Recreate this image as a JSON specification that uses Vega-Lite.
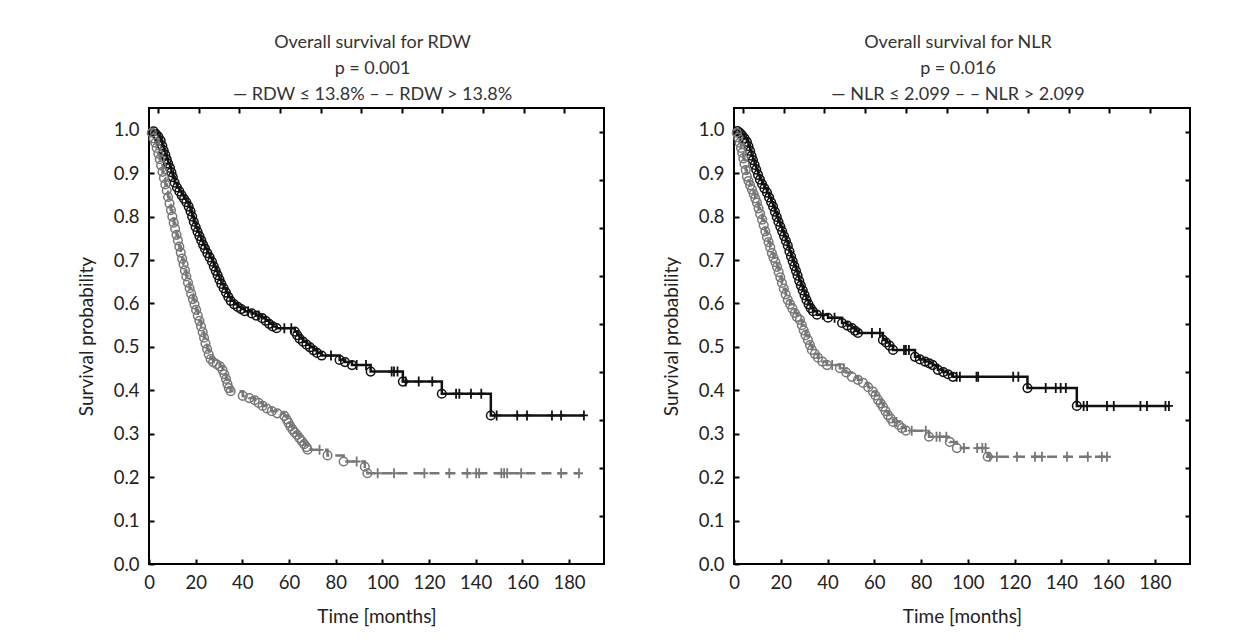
{
  "$schema": "https://vega.github.io/schema/vega-lite/v6.json",
  "autosize": {"type": "none"},
  "padding": {"left": 149, "top": 108, "right": 1104, "bottom": 535},
  "background": "white",
  "config": {
    "font": "Lato",
    "view": {"stroke": "#000000", "strokeWidth": 2},
    "axis": {"labelFont": "Lato", "labelFontSize": 18.5, "labelColor": "#222222", "titleFont": "Lato", "titleFontSize": 19, "titleFontWeight": "normal", "titleColor": "#222222", "domain": false, "grid": false, "tickColor": "#000000", "tickWidth": 2, "tickSize": -5},
    "title": {"font": "Lato", "fontSize": 18, "fontWeight": "normal", "color": "#333333", "lineHeight": 26, "anchor": "middle", "offset": 3, "dx": -4}
  },
  "datasets": {
    "rdw": [
      {"g":"a","t":0,"s":1,"k":"s"},
      {"g":"a","t":2,"s":0.996,"k":"e"},{"g":"a","t":3,"s":0.99,"k":"e"},{"g":"a","t":4,"s":0.984,"k":"e"},{"g":"a","t":5,"s":0.975,"k":"e"},{"g":"a","t":5.7,"s":0.963,"k":"e"},{"g":"a","t":6.3,"s":0.952,"k":"e"},{"g":"a","t":7,"s":0.942,"k":"e"},{"g":"a","t":7.6,"s":0.932,"k":"e"},{"g":"a","t":8.2,"s":0.922,"k":"e"},{"g":"a","t":9,"s":0.912,"k":"e"},{"g":"a","t":9.6,"s":0.902,"k":"e"},{"g":"a","t":10.2,"s":0.891,"k":"e"},{"g":"a","t":11,"s":0.878,"k":"e"},{"g":"a","t":12,"s":0.867,"k":"e"},{"g":"a","t":13,"s":0.858,"k":"e"},{"g":"a","t":14,"s":0.849,"k":"e"},{"g":"a","t":15,"s":0.841,"k":"e"},{"g":"a","t":16,"s":0.833,"k":"e"},{"g":"a","t":17,"s":0.823,"k":"e"},{"g":"a","t":17.8,"s":0.812,"k":"e"},{"g":"a","t":18.5,"s":0.8,"k":"e"},{"g":"a","t":19.2,"s":0.788,"k":"e"},{"g":"a","t":20,"s":0.776,"k":"e"},{"g":"a","t":20.8,"s":0.765,"k":"e"},{"g":"a","t":21.6,"s":0.755,"k":"e"},{"g":"a","t":22.4,"s":0.745,"k":"e"},{"g":"a","t":23.2,"s":0.735,"k":"e"},{"g":"a","t":24,"s":0.726,"k":"e"},{"g":"a","t":25,"s":0.716,"k":"e"},{"g":"a","t":26,"s":0.706,"k":"e"},{"g":"a","t":27,"s":0.696,"k":"e"},{"g":"a","t":27.8,"s":0.685,"k":"e"},{"g":"a","t":28.6,"s":0.675,"k":"e"},{"g":"a","t":29.4,"s":0.665,"k":"e"},{"g":"a","t":30.2,"s":0.655,"k":"e"},{"g":"a","t":31,"s":0.645,"k":"e"},{"g":"a","t":32,"s":0.635,"k":"e"},{"g":"a","t":33,"s":0.625,"k":"e"},{"g":"a","t":34,"s":0.615,"k":"e"},{"g":"a","t":35,"s":0.606,"k":"e"},{"g":"a","t":36.5,"s":0.598,"k":"e"},{"g":"a","t":38,"s":0.592,"k":"e"},{"g":"a","t":39.5,"s":0.587,"k":"e"},{"g":"a","t":41,"s":0.582,"k":"e"},{"g":"a","t":42.5,"s":0.582,"k":"c"},{"g":"a","t":44,"s":0.577,"k":"e"},{"g":"a","t":46,"s":0.572,"k":"e"},{"g":"a","t":47,"s":0.572,"k":"c"},{"g":"a","t":48.5,"s":0.566,"k":"e"},{"g":"a","t":50,"s":0.56,"k":"e"},{"g":"a","t":51.5,"s":0.553,"k":"e"},{"g":"a","t":53,"s":0.547,"k":"e"},{"g":"a","t":54.7,"s":0.543,"k":"e"},{"g":"a","t":58,"s":0.543,"k":"c"},{"g":"a","t":61,"s":0.543,"k":"c"},{"g":"a","t":62.5,"s":0.535,"k":"e"},{"g":"a","t":63.5,"s":0.527,"k":"e"},{"g":"a","t":64.5,"s":0.519,"k":"e"},{"g":"a","t":66,"s":0.512,"k":"e"},{"g":"a","t":67.5,"s":0.505,"k":"e"},{"g":"a","t":69,"s":0.499,"k":"e"},{"g":"a","t":70.5,"s":0.492,"k":"e"},{"g":"a","t":72,"s":0.486,"k":"e"},{"g":"a","t":74,"s":0.48,"k":"e"},{"g":"a","t":78,"s":0.48,"k":"c"},{"g":"a","t":81.7,"s":0.47,"k":"e"},{"g":"a","t":84,"s":0.465,"k":"e"},{"g":"a","t":87,"s":0.458,"k":"e"},{"g":"a","t":89,"s":0.458,"k":"c"},{"g":"a","t":93,"s":0.458,"k":"c"},{"g":"a","t":95,"s":0.443,"k":"e"},{"g":"a","t":104,"s":0.443,"k":"c"},{"g":"a","t":105,"s":0.443,"k":"c"},{"g":"a","t":106.5,"s":0.443,"k":"c"},{"g":"a","t":108.8,"s":0.42,"k":"e"},{"g":"a","t":110,"s":0.42,"k":"c"},{"g":"a","t":115.6,"s":0.42,"k":"c"},{"g":"a","t":121.4,"s":0.42,"k":"c"},{"g":"a","t":125.5,"s":0.392,"k":"e"},{"g":"a","t":131.6,"s":0.392,"k":"c"},{"g":"a","t":133,"s":0.392,"k":"c"},{"g":"a","t":138,"s":0.392,"k":"c"},{"g":"a","t":142.4,"s":0.392,"k":"c"},{"g":"a","t":146.5,"s":0.342,"k":"e"},{"g":"a","t":149,"s":0.342,"k":"c"},{"g":"a","t":157.8,"s":0.342,"k":"c"},{"g":"a","t":162,"s":0.342,"k":"c"},{"g":"a","t":172.7,"s":0.342,"k":"c"},{"g":"a","t":176.6,"s":0.342,"k":"c"},{"g":"a","t":186.4,"s":0.342,"k":"c"},
      {"g":"b","t":0,"s":1,"k":"s"},
      {"g":"b","t":1.2,"s":0.993,"k":"e"},{"g":"b","t":2,"s":0.98,"k":"e"},{"g":"b","t":2.7,"s":0.97,"k":"e"},{"g":"b","t":3.3,"s":0.958,"k":"e"},{"g":"b","t":4,"s":0.945,"k":"e"},{"g":"b","t":4.6,"s":0.932,"k":"e"},{"g":"b","t":5.2,"s":0.918,"k":"e"},{"g":"b","t":5.8,"s":0.903,"k":"e"},{"g":"b","t":6.4,"s":0.889,"k":"e"},{"g":"b","t":7,"s":0.874,"k":"e"},{"g":"b","t":7.6,"s":0.86,"k":"e"},{"g":"b","t":8.2,"s":0.845,"k":"e"},{"g":"b","t":8.8,"s":0.83,"k":"e"},{"g":"b","t":9.4,"s":0.815,"k":"e"},{"g":"b","t":10,"s":0.8,"k":"e"},{"g":"b","t":10.6,"s":0.786,"k":"e"},{"g":"b","t":11.2,"s":0.772,"k":"e"},{"g":"b","t":11.8,"s":0.758,"k":"e"},{"g":"b","t":12.4,"s":0.745,"k":"e"},{"g":"b","t":13,"s":0.731,"k":"e"},{"g":"b","t":13.6,"s":0.717,"k":"e"},{"g":"b","t":14.2,"s":0.703,"k":"e"},{"g":"b","t":14.8,"s":0.69,"k":"e"},{"g":"b","t":15.4,"s":0.676,"k":"e"},{"g":"b","t":16,"s":0.662,"k":"e"},{"g":"b","t":16.7,"s":0.648,"k":"e"},{"g":"b","t":17.4,"s":0.635,"k":"e"},{"g":"b","t":18.1,"s":0.622,"k":"e"},{"g":"b","t":18.8,"s":0.61,"k":"e"},{"g":"b","t":19.5,"s":0.598,"k":"e"},{"g":"b","t":20.2,"s":0.585,"k":"e"},{"g":"b","t":20.9,"s":0.572,"k":"e"},{"g":"b","t":21.6,"s":0.56,"k":"e"},{"g":"b","t":22.3,"s":0.547,"k":"e"},{"g":"b","t":23,"s":0.534,"k":"e"},{"g":"b","t":23.6,"s":0.521,"k":"e"},{"g":"b","t":24.2,"s":0.508,"k":"e"},{"g":"b","t":24.9,"s":0.495,"k":"e"},{"g":"b","t":25.6,"s":0.483,"k":"e"},{"g":"b","t":26.4,"s":0.472,"k":"e"},{"g":"b","t":27.5,"s":0.465,"k":"e"},{"g":"b","t":29,"s":0.46,"k":"e"},{"g":"b","t":30.4,"s":0.455,"k":"e"},{"g":"b","t":31.5,"s":0.447,"k":"e"},{"g":"b","t":32.3,"s":0.437,"k":"e"},{"g":"b","t":33,"s":0.426,"k":"e"},{"g":"b","t":33.6,"s":0.415,"k":"e"},{"g":"b","t":34.2,"s":0.405,"k":"e"},{"g":"b","t":35,"s":0.398,"k":"e"},{"g":"b","t":40.2,"s":0.387,"k":"e"},{"g":"b","t":43,"s":0.382,"k":"e"},{"g":"b","t":45.3,"s":0.377,"k":"e"},{"g":"b","t":47,"s":0.371,"k":"e"},{"g":"b","t":48.7,"s":0.364,"k":"e"},{"g":"b","t":50.5,"s":0.358,"k":"e"},{"g":"b","t":52.6,"s":0.352,"k":"e"},{"g":"b","t":55,"s":0.347,"k":"e"},{"g":"b","t":58,"s":0.341,"k":"e"},{"g":"b","t":59,"s":0.333,"k":"e"},{"g":"b","t":59.8,"s":0.325,"k":"e"},{"g":"b","t":60.6,"s":0.317,"k":"e"},{"g":"b","t":61.5,"s":0.31,"k":"e"},{"g":"b","t":62.4,"s":0.303,"k":"e"},{"g":"b","t":63.5,"s":0.297,"k":"e"},{"g":"b","t":64.5,"s":0.29,"k":"e"},{"g":"b","t":65.5,"s":0.283,"k":"e"},{"g":"b","t":66.5,"s":0.276,"k":"e"},{"g":"b","t":67.5,"s":0.269,"k":"e"},{"g":"b","t":68,"s":0.263,"k":"e"},{"g":"b","t":73.1,"s":0.263,"k":"c"},{"g":"b","t":76.5,"s":0.25,"k":"e"},{"g":"b","t":83.4,"s":0.236,"k":"e"},{"g":"b","t":89,"s":0.236,"k":"c"},{"g":"b","t":92.5,"s":0.224,"k":"e"},{"g":"b","t":93.6,"s":0.209,"k":"e"},{"g":"b","t":98,"s":0.209,"k":"c"},{"g":"b","t":105,"s":0.209,"k":"c"},{"g":"b","t":118,"s":0.209,"k":"c"},{"g":"b","t":128.7,"s":0.209,"k":"c"},{"g":"b","t":136.4,"s":0.209,"k":"c"},{"g":"b","t":140.2,"s":0.209,"k":"c"},{"g":"b","t":141.5,"s":0.209,"k":"c"},{"g":"b","t":151,"s":0.209,"k":"c"},{"g":"b","t":152.2,"s":0.209,"k":"c"},{"g":"b","t":153.5,"s":0.209,"k":"c"},{"g":"b","t":159.5,"s":0.209,"k":"c"},{"g":"b","t":176.6,"s":0.209,"k":"c"},{"g":"b","t":184.3,"s":0.209,"k":"c"}
    ],
    "nlr": [
      {"g":"a","t":0,"s":1,"k":"s"},
      {"g":"a","t":1.5,"s":0.997,"k":"e"},{"g":"a","t":2.5,"s":0.993,"k":"e"},{"g":"a","t":3.5,"s":0.987,"k":"e"},{"g":"a","t":4.5,"s":0.98,"k":"e"},{"g":"a","t":5.5,"s":0.972,"k":"e"},{"g":"a","t":6.2,"s":0.962,"k":"e"},{"g":"a","t":6.9,"s":0.951,"k":"e"},{"g":"a","t":7.5,"s":0.94,"k":"e"},{"g":"a","t":8.1,"s":0.93,"k":"e"},{"g":"a","t":8.8,"s":0.919,"k":"e"},{"g":"a","t":9.5,"s":0.908,"k":"e"},{"g":"a","t":10.3,"s":0.896,"k":"e"},{"g":"a","t":11.1,"s":0.885,"k":"e"},{"g":"a","t":12,"s":0.875,"k":"e"},{"g":"a","t":13,"s":0.865,"k":"e"},{"g":"a","t":14.1,"s":0.855,"k":"e"},{"g":"a","t":15,"s":0.844,"k":"e"},{"g":"a","t":15.9,"s":0.833,"k":"e"},{"g":"a","t":16.7,"s":0.823,"k":"e"},{"g":"a","t":17.5,"s":0.811,"k":"e"},{"g":"a","t":18.3,"s":0.799,"k":"e"},{"g":"a","t":19,"s":0.788,"k":"e"},{"g":"a","t":19.8,"s":0.777,"k":"e"},{"g":"a","t":20.6,"s":0.766,"k":"e"},{"g":"a","t":21.4,"s":0.755,"k":"e"},{"g":"a","t":22.2,"s":0.744,"k":"e"},{"g":"a","t":23,"s":0.733,"k":"e"},{"g":"a","t":23.7,"s":0.72,"k":"e"},{"g":"a","t":24.4,"s":0.708,"k":"e"},{"g":"a","t":25.1,"s":0.697,"k":"e"},{"g":"a","t":25.8,"s":0.686,"k":"e"},{"g":"a","t":26.5,"s":0.675,"k":"e"},{"g":"a","t":27.2,"s":0.664,"k":"e"},{"g":"a","t":27.9,"s":0.652,"k":"e"},{"g":"a","t":28.6,"s":0.641,"k":"e"},{"g":"a","t":29.4,"s":0.63,"k":"e"},{"g":"a","t":30.2,"s":0.619,"k":"e"},{"g":"a","t":31,"s":0.608,"k":"e"},{"g":"a","t":31.9,"s":0.598,"k":"e"},{"g":"a","t":32.8,"s":0.589,"k":"e"},{"g":"a","t":33.8,"s":0.582,"k":"e"},{"g":"a","t":35.5,"s":0.574,"k":"e"},{"g":"a","t":38,"s":0.574,"k":"c"},{"g":"a","t":40.2,"s":0.567,"k":"e"},{"g":"a","t":43,"s":0.567,"k":"c"},{"g":"a","t":46.2,"s":0.555,"k":"e"},{"g":"a","t":48.5,"s":0.549,"k":"e"},{"g":"a","t":50.4,"s":0.543,"k":"e"},{"g":"a","t":51.8,"s":0.537,"k":"e"},{"g":"a","t":53,"s":0.532,"k":"e"},{"g":"a","t":59,"s":0.532,"k":"c"},{"g":"a","t":62.4,"s":0.532,"k":"c"},{"g":"a","t":63.7,"s":0.516,"k":"e"},{"g":"a","t":65,"s":0.51,"k":"e"},{"g":"a","t":66.5,"s":0.503,"k":"e"},{"g":"a","t":68,"s":0.493,"k":"e"},{"g":"a","t":72.7,"s":0.493,"k":"c"},{"g":"a","t":73.5,"s":0.493,"k":"c"},{"g":"a","t":74.8,"s":0.493,"k":"c"},{"g":"a","t":77.4,"s":0.477,"k":"e"},{"g":"a","t":79.5,"s":0.471,"k":"e"},{"g":"a","t":81.7,"s":0.466,"k":"e"},{"g":"a","t":83.5,"s":0.462,"k":"e"},{"g":"a","t":85,"s":0.458,"k":"e"},{"g":"a","t":87.2,"s":0.447,"k":"e"},{"g":"a","t":89.5,"s":0.442,"k":"e"},{"g":"a","t":91.5,"s":0.437,"k":"e"},{"g":"a","t":93.6,"s":0.431,"k":"e"},{"g":"a","t":95.2,"s":0.431,"k":"c"},{"g":"a","t":96.6,"s":0.431,"k":"c"},{"g":"a","t":103.7,"s":0.431,"k":"c"},{"g":"a","t":104.4,"s":0.431,"k":"c"},{"g":"a","t":119.4,"s":0.431,"k":"c"},{"g":"a","t":121.6,"s":0.431,"k":"c"},{"g":"a","t":125.5,"s":0.405,"k":"e"},{"g":"a","t":133.3,"s":0.405,"k":"c"},{"g":"a","t":137.6,"s":0.405,"k":"c"},{"g":"a","t":139.7,"s":0.405,"k":"c"},{"g":"a","t":141.9,"s":0.405,"k":"c"},{"g":"a","t":146.6,"s":0.364,"k":"e"},{"g":"a","t":149.5,"s":0.364,"k":"c"},{"g":"a","t":151,"s":0.364,"k":"c"},{"g":"a","t":159.5,"s":0.364,"k":"c"},{"g":"a","t":162.4,"s":0.364,"k":"c"},{"g":"a","t":173.8,"s":0.364,"k":"c"},{"g":"a","t":176.6,"s":0.364,"k":"c"},{"g":"a","t":184.5,"s":0.364,"k":"c"},{"g":"a","t":186,"s":0.364,"k":"c"},
      {"g":"b","t":0,"s":1,"k":"s"},
      {"g":"b","t":1.2,"s":0.993,"k":"e"},{"g":"b","t":1.8,"s":0.982,"k":"e"},{"g":"b","t":2.4,"s":0.97,"k":"e"},{"g":"b","t":3,"s":0.958,"k":"e"},{"g":"b","t":3.5,"s":0.947,"k":"e"},{"g":"b","t":4,"s":0.934,"k":"e"},{"g":"b","t":4.5,"s":0.921,"k":"e"},{"g":"b","t":5,"s":0.907,"k":"e"},{"g":"b","t":5.5,"s":0.892,"k":"e"},{"g":"b","t":6.2,"s":0.882,"k":"e"},{"g":"b","t":6.9,"s":0.872,"k":"e"},{"g":"b","t":7.7,"s":0.862,"k":"e"},{"g":"b","t":8.4,"s":0.852,"k":"e"},{"g":"b","t":9.1,"s":0.842,"k":"e"},{"g":"b","t":9.8,"s":0.832,"k":"e"},{"g":"b","t":10.5,"s":0.819,"k":"e"},{"g":"b","t":11.2,"s":0.806,"k":"e"},{"g":"b","t":12,"s":0.793,"k":"e"},{"g":"b","t":12.7,"s":0.78,"k":"e"},{"g":"b","t":13.4,"s":0.766,"k":"e"},{"g":"b","t":14.1,"s":0.753,"k":"e"},{"g":"b","t":14.8,"s":0.741,"k":"e"},{"g":"b","t":15.5,"s":0.729,"k":"e"},{"g":"b","t":16.2,"s":0.716,"k":"e"},{"g":"b","t":16.9,"s":0.705,"k":"e"},{"g":"b","t":17.7,"s":0.695,"k":"e"},{"g":"b","t":18.4,"s":0.684,"k":"e"},{"g":"b","t":19.1,"s":0.672,"k":"e"},{"g":"b","t":19.8,"s":0.66,"k":"e"},{"g":"b","t":20.5,"s":0.647,"k":"e"},{"g":"b","t":21.3,"s":0.634,"k":"e"},{"g":"b","t":22.1,"s":0.621,"k":"e"},{"g":"b","t":23,"s":0.608,"k":"e"},{"g":"b","t":24,"s":0.598,"k":"e"},{"g":"b","t":25,"s":0.588,"k":"e"},{"g":"b","t":26,"s":0.578,"k":"e"},{"g":"b","t":26.9,"s":0.569,"k":"e"},{"g":"b","t":28.2,"s":0.562,"k":"e"},{"g":"b","t":29,"s":0.55,"k":"e"},{"g":"b","t":29.8,"s":0.538,"k":"e"},{"g":"b","t":30.6,"s":0.527,"k":"e"},{"g":"b","t":31.6,"s":0.516,"k":"e"},{"g":"b","t":32.5,"s":0.504,"k":"e"},{"g":"b","t":33.3,"s":0.493,"k":"e"},{"g":"b","t":34.6,"s":0.484,"k":"e"},{"g":"b","t":35.9,"s":0.475,"k":"e"},{"g":"b","t":37.8,"s":0.466,"k":"e"},{"g":"b","t":39.8,"s":0.458,"k":"e"},{"g":"b","t":42,"s":0.458,"k":"c"},{"g":"b","t":45.3,"s":0.451,"k":"e"},{"g":"b","t":47,"s":0.451,"k":"c"},{"g":"b","t":48,"s":0.441,"k":"e"},{"g":"b","t":50.4,"s":0.431,"k":"e"},{"g":"b","t":53,"s":0.424,"k":"e"},{"g":"b","t":55.2,"s":0.417,"k":"e"},{"g":"b","t":57.4,"s":0.407,"k":"e"},{"g":"b","t":59.4,"s":0.397,"k":"e"},{"g":"b","t":60.5,"s":0.388,"k":"e"},{"g":"b","t":61.6,"s":0.378,"k":"e"},{"g":"b","t":62.7,"s":0.37,"k":"e"},{"g":"b","t":63.7,"s":0.362,"k":"e"},{"g":"b","t":64.8,"s":0.352,"k":"e"},{"g":"b","t":65.8,"s":0.343,"k":"e"},{"g":"b","t":67,"s":0.335,"k":"e"},{"g":"b","t":68,"s":0.327,"k":"e"},{"g":"b","t":69.5,"s":0.327,"k":"c"},{"g":"b","t":70.5,"s":0.32,"k":"e"},{"g":"b","t":71.8,"s":0.313,"k":"e"},{"g":"b","t":73.5,"s":0.307,"k":"e"},{"g":"b","t":76,"s":0.307,"k":"c"},{"g":"b","t":82,"s":0.307,"k":"c"},{"g":"b","t":83.4,"s":0.293,"k":"e"},{"g":"b","t":86.6,"s":0.293,"k":"c"},{"g":"b","t":88,"s":0.293,"k":"c"},{"g":"b","t":90.8,"s":0.293,"k":"c"},{"g":"b","t":92.3,"s":0.281,"k":"e"},{"g":"b","t":95.3,"s":0.267,"k":"e"},{"g":"b","t":98.3,"s":0.267,"k":"c"},{"g":"b","t":104,"s":0.267,"k":"c"},{"g":"b","t":106.2,"s":0.267,"k":"c"},{"g":"b","t":107.6,"s":0.267,"k":"c"},{"g":"b","t":108.5,"s":0.247,"k":"e"},{"g":"b","t":109.4,"s":0.247,"k":"c"},{"g":"b","t":112.4,"s":0.247,"k":"c"},{"g":"b","t":121,"s":0.247,"k":"c"},{"g":"b","t":128.7,"s":0.247,"k":"c"},{"g":"b","t":131.7,"s":0.247,"k":"c"},{"g":"b","t":142.4,"s":0.247,"k":"c"},{"g":"b","t":151.3,"s":0.247,"k":"c"},{"g":"b","t":157.3,"s":0.247,"k":"c"},{"g":"b","t":159.5,"s":0.247,"k":"c"}
    ]
  },
  "spacing": 130,
  "bounds": "flush",
  "hconcat": [
    {
      "width": 455,
      "height": 456,
      "title": {"text": ["Overall survival for RDW", "p = 0.001", "— RDW ≤ 13.8% – – RDW > 13.8%"]},
      "data": {"name": "rdw"},
      "resolve": {"axis": {"x": "independent", "y": "independent"}},
      "layer": [
        {
          "mark": {"type": "line", "interpolate": "step-after", "strokeWidth": 2.5},
          "encoding": {
            "x": {"field": "t", "type": "quantitative", "scale": {"domain": [0, 195], "nice": false, "zero": false}, "axis": {"orient": "bottom", "values": [0, 20, 40, 60, 80, 100, 120, 140, 160, 180], "title": "Time [months]", "labelPadding": 14, "titlePadding": 16, "labelFlush": false}},
            "y": {"field": "s", "type": "quantitative", "scale": {"domain": [0, 1.05], "nice": false}, "axis": {"orient": "left", "values": [0, 0.1, 0.2, 0.3, 0.4, 0.5, 0.6, 0.7, 0.8, 0.9, 1.0], "format": ".1f", "title": "Survival probability", "labelPadding": 15, "titlePadding": 17, "labelFlush": false}},
            "color": {"field": "g", "type": "nominal", "scale": {"domain": ["a", "b"], "range": ["#111111", "#777777"]}, "legend": null},
            "strokeDash": {"field": "g", "type": "nominal", "scale": {"domain": ["a", "b"], "range": [[1, 0], [10, 6]]}, "legend": null},
            "order": {"field": "t", "type": "quantitative"}
          }
        },
        {
          "transform": [{"filter": "datum.k === 'e'"}],
          "mark": {"type": "point", "shape": "circle", "size": 75, "strokeWidth": 1.5, "filled": false, "opacity": 1},
          "encoding": {
            "x": {"field": "t", "type": "quantitative", "axis": {"orient": "top", "values": [3.9, 21.3, 38.7, 56.1, 73.5, 90.9, 108.3, 125.7, 143.1, 160.5, 177.9], "labels": false, "title": null}},
            "y": {"field": "s", "type": "quantitative", "axis": {"orient": "right", "values": [0.111, 0.221, 0.332, 0.442, 0.553, 0.663, 0.774, 0.884, 0.995], "labels": false, "title": null}},
            "color": {"field": "g", "type": "nominal", "legend": null}
          }
        },
        {
          "transform": [{"filter": "datum.k === 'c'"}],
          "mark": {"type": "point", "shape": "M0,-1V1M-0.8,0H0.8", "size": 100, "strokeWidth": 1.8, "filled": false, "opacity": 1},
          "encoding": {
            "x": {"field": "t", "type": "quantitative", "axis": null},
            "y": {"field": "s", "type": "quantitative", "axis": null},
            "color": {"field": "g", "type": "nominal", "legend": null}
          }
        }
      ]
    },
    {
      "width": 456,
      "height": 456,
      "title": {"text": ["Overall survival for NLR", "p = 0.016", "— NLR ≤ 2.099 – – NLR > 2.099"]},
      "data": {"name": "nlr"},
      "resolve": {"axis": {"x": "independent", "y": "independent"}},
      "layer": [
        {
          "mark": {"type": "line", "interpolate": "step-after", "strokeWidth": 2.5},
          "encoding": {
            "x": {"field": "t", "type": "quantitative", "scale": {"domain": [0, 195], "nice": false, "zero": false}, "axis": {"orient": "bottom", "values": [0, 20, 40, 60, 80, 100, 120, 140, 160, 180], "title": "Time [months]", "labelPadding": 14, "titlePadding": 16, "labelFlush": false}},
            "y": {"field": "s", "type": "quantitative", "scale": {"domain": [0, 1.05], "nice": false}, "axis": {"orient": "left", "values": [0, 0.1, 0.2, 0.3, 0.4, 0.5, 0.6, 0.7, 0.8, 0.9, 1.0], "format": ".1f", "title": "Survival probability", "labelPadding": 15, "titlePadding": 17, "labelFlush": false}},
            "color": {"field": "g", "type": "nominal", "scale": {"domain": ["a", "b"], "range": ["#111111", "#777777"]}, "legend": null},
            "strokeDash": {"field": "g", "type": "nominal", "scale": {"domain": ["a", "b"], "range": [[1, 0], [10, 6]]}, "legend": null},
            "order": {"field": "t", "type": "quantitative"}
          }
        },
        {
          "transform": [{"filter": "datum.k === 'e'"}],
          "mark": {"type": "point", "shape": "circle", "size": 75, "strokeWidth": 1.5, "filled": false, "opacity": 1},
          "encoding": {
            "x": {"field": "t", "type": "quantitative", "axis": {"orient": "top", "values": [3.9, 21.3, 38.7, 56.1, 73.5, 90.9, 108.3, 125.7, 143.1, 160.5, 177.9], "labels": false, "title": null}},
            "y": {"field": "s", "type": "quantitative", "axis": {"orient": "right", "values": [0.111, 0.221, 0.332, 0.442, 0.553, 0.663, 0.774, 0.884, 0.995], "labels": false, "title": null}},
            "color": {"field": "g", "type": "nominal", "legend": null}
          }
        },
        {
          "transform": [{"filter": "datum.k === 'c'"}],
          "mark": {"type": "point", "shape": "M0,-1V1M-0.8,0H0.8", "size": 100, "strokeWidth": 1.8, "filled": false, "opacity": 1},
          "encoding": {
            "x": {"field": "t", "type": "quantitative", "axis": null},
            "y": {"field": "s", "type": "quantitative", "axis": null},
            "color": {"field": "g", "type": "nominal", "legend": null}
          }
        }
      ]
    }
  ]
}
